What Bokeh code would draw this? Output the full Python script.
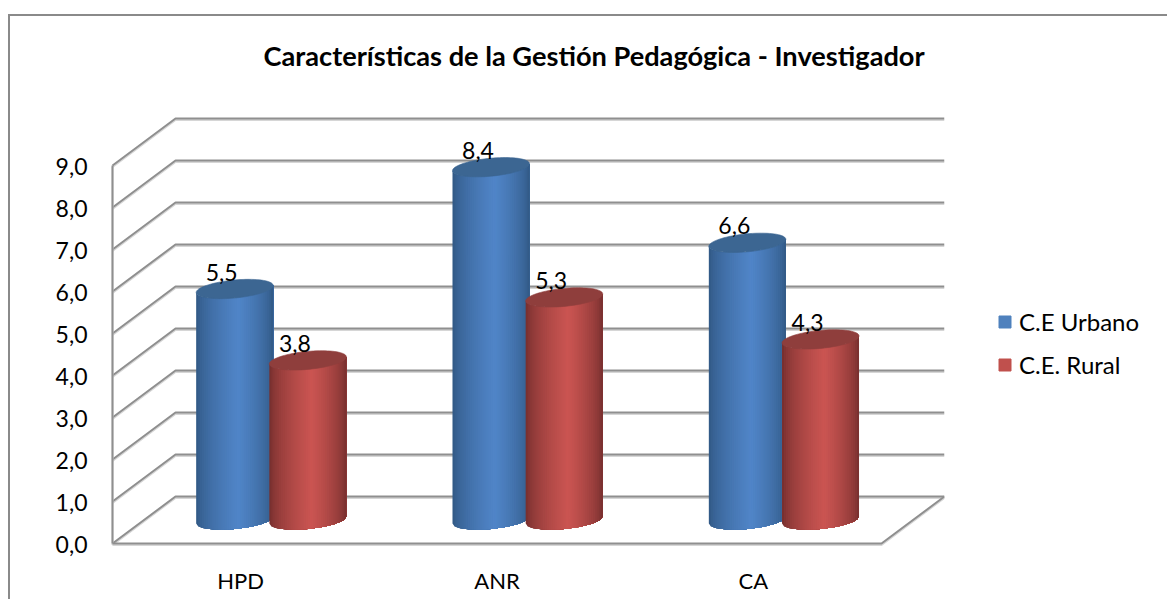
import numpy as np
from bokeh.embed import file_html
from bokeh.resources import INLINE
from bokeh.plotting import figure
from bokeh.models import (ColumnDataSource, FixedTicker, Legend, LegendItem,
                          LinearAxis, Range1d, Title)
from bokeh.core.properties import value

# ---- data ----
categories = ["HPD", "ANR", "CA"]
urbano = [5.5, 8.4, 6.6]
rural = [3.8, 5.3, 4.3]
urbano_labels = ["5,5", "8,4", "6,6"]
rural_labels = ["3,8", "5,3", "4,3"]
y_ticks = [0, 1, 2, 3, 4, 5, 6, 7, 8, 9]
y_tick_labels = ["0,0", "1,0", "2,0", "3,0", "4,0", "5,0", "6,0", "7,0", "8,0", "9,0"]
series_names = ["C.E Urbano", "C.E. Rural"]
title_text = "Características de la Gestión Pedagógica - Investigador"

# ---- geometry of the oblique drawing (pixels of the picture) ----
FONT = "Lato"
ORG_X, ORG_Y = 10, 16      # where the canvas starts inside the border
W, H = 1167 - ORG_X, 599 - ORG_Y
X0, Y0 = 112, 543          # picture position of value 0 on the front corner
PAD_L, PAD_B = 4, 10       # the frame reaches a little beyond the corner so nothing is cut
FRAME_L, FRAME_R, FRAME_T, FRAME_B = X0 - PAD_L, 944, 75, Y0 + PAD_B
PX_X = 256.33            # pixels per category
PX_Y = 42.0              # pixels per unit of value
DEPTH_X, DEPTH_Y = 63, 47
CYL_W = 77
SHIFT_URB, SHIFT_RUR = -37.5, 35.7
A, B, TILT = CYL_W / 2, 9.0, 3.5
GRID = "#8f8f8f"
GRID_SHADOW = "#d6d6d6"
LABEL_DROP = 1             # y tick labels sit a little below their gridlines

x_max = (FRAME_R - X0) / PX_X
y_max = (Y0 - FRAME_T) / PX_Y
x_min, y_min = -PAD_L / PX_X, -PAD_B / PX_Y
dx_back, dy_back = DEPTH_X / PX_X, DEPTH_Y / PX_Y

p = figure(width=W, height=H, frame_width=FRAME_R - FRAME_L, frame_height=FRAME_B - FRAME_T,
           x_range=Range1d(x_min, x_max), y_range=Range1d(y_min, y_max),
           output_backend="svg", toolbar_location=None,
           x_axis_location=None, y_axis_location=None,
           min_border_left=FRAME_L - ORG_X, min_border_right=1167 - FRAME_R,
           min_border_top=FRAME_T - ORG_Y, min_border_bottom=599 - FRAME_B,
           background_fill_color="white", border_fill_color="white", outline_line_color=None)
p.grid.visible = False
p.margin = (ORG_Y - 2, 0, 0, ORG_X - 2)
p.styles = {"border-top": "2px solid #8a8a8a", "border-left": "2px solid #8a8a8a"}

p.title = Title(text=title_text, align="left", offset=263 - FRAME_L, standoff=8,
                text_font=FONT, text_font_size="27.2px", text_font_style="bold", text_color="#000000")

drop = LABEL_DROP / PX_Y
p.extra_y_ranges = {"labels": Range1d(y_min + drop, y_max + drop)}
yaxis = LinearAxis(y_range_name="labels", ticker=FixedTicker(ticks=y_ticks),
                   major_label_overrides={t: l for t, l in zip(y_ticks, y_tick_labels)},
                   axis_line_color=None,
                   major_tick_line_color=None, minor_tick_line_color=None,
                   major_tick_out=0, major_label_standoff=21,
                   major_label_text_font=FONT, major_label_text_font_size="23px", major_label_text_color="#000000")
p.add_layout(yaxis, "left")

cat_ticks = [i + 0.5 for i in range(len(categories))]
xaxis = LinearAxis(ticker=FixedTicker(ticks=cat_ticks),
                   major_label_overrides={t: l for t, l in zip(cat_ticks, categories)},
                   axis_line_color=None,
                   major_tick_line_color=None, minor_tick_line_color=None,
                   major_tick_out=0, major_label_standoff=13,
                   major_label_text_font=FONT, major_label_text_font_size="22px", major_label_text_color="#000000")
p.add_layout(xaxis, "below")


def grid_line(xs, ys):
    p.line(xs, [y - 1.4 / PX_Y for y in ys], line_color=GRID_SHADOW, line_width=2)
    p.line(xs, ys, line_color=GRID, line_width=2)


# gridlines on the side wall and the back wall
for t in y_ticks:
    grid_line([0, dx_back, x_max], [t, t + dy_back, t + dy_back])
# axis lines and the floor's right edge
grid_line([0, 0], [0, y_ticks[-1]])
grid_line([0, len(categories), x_max], [0, 0, dy_back])


def lerp(c1, c2, f):
    return "#%02x%02x%02x" % tuple(int(round(a + (b - a) * f)) for a, b in zip(c1, c2))


def shade(frac, dark, light):
    # dark at both edges, brightest a little right of the middle
    peak = 0.55
    f = frac / peak if frac < peak else (1 - frac) / (1 - peak)
    return lerp(dark, light, min(1.0, f ** 0.6))


def ell(t):
    return A * np.cos(t), -TILT * np.cos(t) + B * np.sin(t)   # pixels, y downwards


def cylinder(cat_index, shift_px, val, dark, light, top_color):
    cx = (cat_index + 0.5) + (DEPTH_X / 2 + shift_px) / PX_X
    base = (DEPTH_Y / 2) / PX_Y
    top = base + val
    n = 40
    edges = np.linspace(-A, A, n + 1)
    ts = np.arccos(edges / A)          # from the left edge (t=pi) to the right edge (t=0)
    xs, ys, colors = [], [], []
    for i in range(n):
        # each strip reaches to the right edge; the next one paints over it, so no seams show
        dx, dy = ell(ts[i:])
        xs.append(np.r_[cx + dx / PX_X, (cx + dx / PX_X)[::-1]].tolist())
        ys.append(np.r_[top - dy / PX_Y, (base - dy / PX_Y)[::-1]].tolist())
        colors.append(shade((i + 0.5) / n, dark, light))
    p.patches(xs="xs", ys="ys", fill_color="c", line_color=None,
              source=ColumnDataSource(dict(xs=xs, ys=ys, c=colors)))
    tt = np.linspace(0, 2 * np.pi, 80)
    dx, dy = ell(tt)
    p.patch(cx + dx / PX_X, top - dy / PX_Y, fill_color=top_color, line_color=top_color, line_width=0.6)


URB = dict(dark=(0x2f, 0x55, 0x80), light=(0x50, 0x85, 0xc8), top_color="#3c6692")
RUR = dict(dark=(0x70, 0x2c, 0x2b), light=(0xcb, 0x55, 0x52), top_color="#8f3e3c")

for i in range(len(categories)):
    cylinder(i, SHIFT_URB, urbano[i], **URB)
    cylinder(i, SHIFT_RUR, rural[i], **RUR)

# value labels
lab_x, lab_y, lab_t = [], [], []
for i in range(len(categories)):
    for shift, val, txt in ((SHIFT_URB, urbano[i], urbano_labels[i]), (SHIFT_RUR, rural[i], rural_labels[i])):
        lab_x.append(i + 0.5 + (DEPTH_X / 2 + shift) / PX_X)
        lab_y.append(DEPTH_Y / 2 / PX_Y + val)
        lab_t.append(txt)
p.text(lab_x, lab_y, text=lab_t, x_offset=-13, y_offset=-17, text_align="center", text_baseline="middle",
       text_font=value(FONT), text_font_size="23px", text_color="#000000")

# legend: its two keys come from marks lying outside the visible range
off = [y_min - 5]
r1 = p.quad(left=off, right=off, top=off, bottom=off, fill_color="#4f81bd", line_color="#4f81bd")
r2 = p.quad(left=off, right=off, top=off, bottom=off, fill_color="#c0504d", line_color="#c0504d")
legend = Legend(items=[LegendItem(label=series_names[0], renderers=[r1]),
                       LegendItem(label=series_names[1], renderers=[r2])],
                location=(997 - FRAME_R, 174), orientation="vertical",
                background_fill_alpha=0, border_line_color=None,
                glyph_width=15, glyph_height=15, label_standoff=7, spacing=14,
                label_text_font=FONT, label_text_font_size="24px", label_text_color="#000000",
                margin=0, padding=0)
p.add_layout(legend, "right")

open("out.html", "w").write(file_html(p, INLINE))
